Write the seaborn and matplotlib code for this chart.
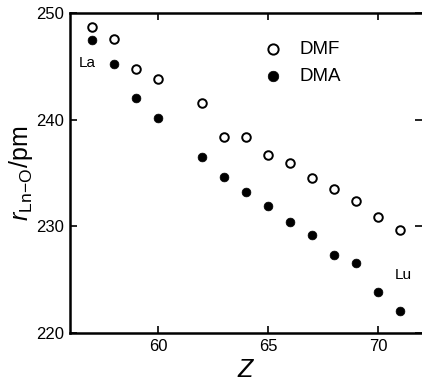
import pandas as pd
import seaborn as sns
import matplotlib.pyplot as plt

sns.set_style("ticks")
plt.rcParams['font.family'] = ['Liberation Sans', 'DejaVu Sans']
plt.rcParams['mathtext.fontset'] = 'custom'
plt.rcParams['mathtext.rm'] = 'Liberation Sans'
plt.rcParams['mathtext.it'] = 'Liberation Sans:italic'
plt.rcParams['text.color'] = 'black'
plt.rcParams['axes.labelcolor'] = 'black'
plt.rcParams['axes.edgecolor'] = 'black'
plt.rcParams['xtick.color'] = 'black'
plt.rcParams['ytick.color'] = 'black'

# atomic number Z (Pm missing)
z = [57, 58, 59, 60, 62, 63, 64, 65, 66, 67, 68, 69, 70, 71]
dmf = [248.7, 247.6, 244.7, 243.8, 241.6, 238.4, 238.4, 236.7, 235.9, 234.5, 233.5, 232.4, 230.9, 229.7]
dma = [247.5, 245.2, 242.0, 240.2, 236.5, 234.6, 233.2, 231.9, 230.4, 229.2, 227.3, 226.6, 223.8, 222.1]

df = pd.DataFrame({'Z': z * 2, 'r': dmf + dma,
                   'Solvent': ['DMF'] * len(z) + ['DMA'] * len(z)})

fig = plt.figure(figsize=(4.22, 3.81), dpi=100)
ax = fig.add_axes([0.166, 0.126, 0.834, 0.84])

sns.scatterplot(data=df[df.Solvent == 'DMF'], x='Z', y='r', ax=ax,
                marker='o', s=38, facecolor='white', edgecolor='black',
                linewidth=1.4, label='DMF')
sns.scatterplot(data=df[df.Solvent == 'DMA'], x='Z', y='r', ax=ax,
                marker='o', s=40, color='black', edgecolor='black',
                linewidth=0.5, label='DMA')

ax.set_xlim(56, 72)
ax.set_ylim(220, 250)
ax.set_xticks([60, 65, 70])
ax.set_yticks([220, 230, 240, 250])
ax.tick_params(direction='in', length=5, width=1.2, labelsize=12,
               top=True, right=True, pad=4)
ax.spines['right'].set_visible(False)
for s in ['left', 'top', 'bottom']:
    ax.spines[s].set_linewidth(1.8)

ax.set_xlabel('$Z$', fontsize=18, labelpad=3)
ax.set_ylabel(r'$r_{\mathrm{Ln\!-\!O}}$/pm', fontsize=18, labelpad=1)

ax.text(56.8, 245.3, 'La', fontsize=11, ha='center', va='center')
ax.text(71.15, 225.4, 'Lu', fontsize=11, ha='center', va='center')

ax.legend(loc='upper left', bbox_to_anchor=(0.475, 0.965), frameon=False,
          fontsize=13.5, handletextpad=0.4, labelspacing=0.5, markerscale=1.2)

fig.savefig('out.png', dpi=100)
